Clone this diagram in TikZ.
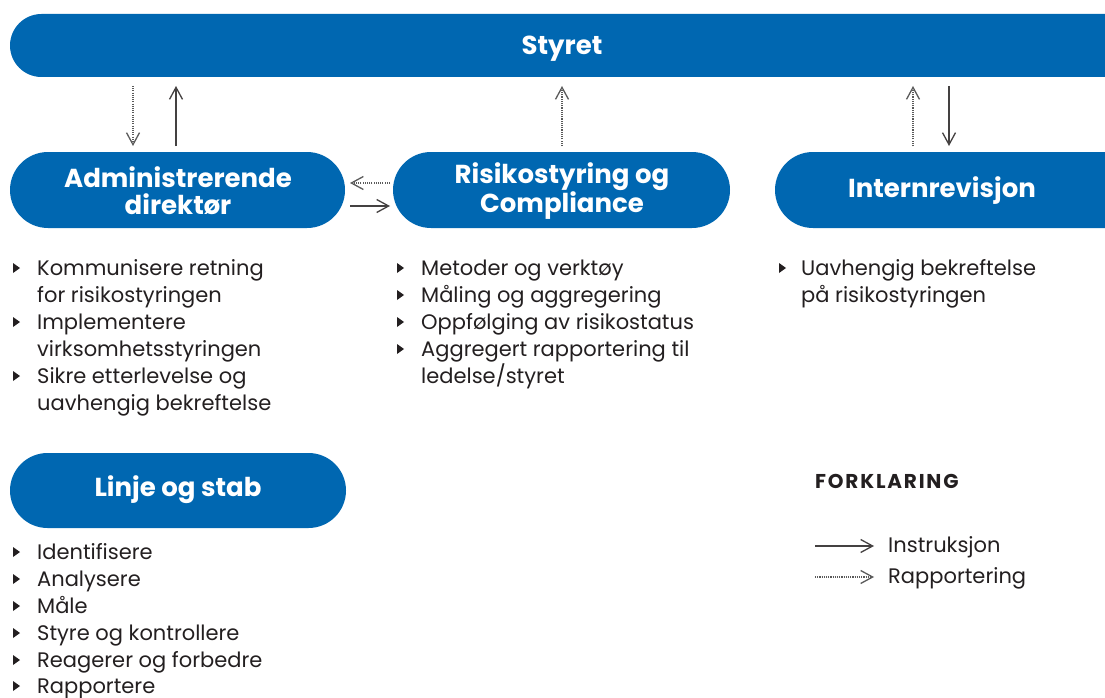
\documentclass[tikz,border=0pt]{standalone}
\usepackage{fontspec}
\setmainfont{Poppins}
\newfontfamily\legfont[LetterSpace=9]{Poppins}
\usetikzlibrary{arrows.meta}
\definecolor{pillblue}{HTML}{0067B1}
\definecolor{ink}{HTML}{231F20}
\definecolor{dotgray}{HTML}{5A5A5A}
\tikzset{
  pill/.style={fill=pillblue, draw=none},
  head/.style={text=white, font=\fontsize{26}{27}\selectfont\bfseries, align=center, inner sep=0pt},
  body/.style={text=ink, font=\fontsize{21}{27}\selectfont, anchor=base west, inner sep=0pt},
  legendhead/.style={text=ink, font=\legfont\fontsize{20}{22}\selectfont\bfseries, anchor=base west, inner sep=0pt},
  tip/.style={-{Straight Barb[length=12pt,width=13pt,line width=1.3pt]}},
  instr/.style={tip, draw=ink!85, line width=1.5pt},
  rapp/.style={tip, draw=dotgray, line width=1.1pt, dash pattern=on 1.1pt off 1.1pt},
  bullet/.style={fill=ink}
}
\newcommand{\tribul}[2]{\fill[bullet] (#1,#2-12) -- (#1,#2-2) -- (#1+7,#2-7) -- cycle;}
\begin{document}
\begin{tikzpicture}[x=1pt,y=-1pt]
\useasboundingbox (0,0) rectangle (1105,698);
\clip (0,0) rectangle (1105,698);
% pills
\fill[pill, rounded corners=31.5] (10,14) rectangle (1160,77);
\fill[pill, rounded corners=38] (10,152) rectangle (345,228);
\fill[pill, rounded corners=38] (393,152) rectangle (730,228);
\fill[pill, rounded corners=38] (775,152) rectangle (1180,228);
\fill[pill, rounded corners=37.5] (10,453) rectangle (346,528);
% headings
\node[head] (styret) at (562,48.5) {Styret};
\node[head] (adm) at (178,191) {Administrerende\\direktør};
\node[head] (risk) at (562,191) {Risikostyring og\\Compliance};
\node[head] (intern) at (942,191) {Internrevisjon};
\node[head] (linje) at (178,490) {Linje og stab};
% connector endpoints
\coordinate (a1t) at (133,86); \coordinate (a1b) at (133,146);
\coordinate (a2t) at (176,86); \coordinate (a2b) at (176,146);
\coordinate (r1t) at (562,86); \coordinate (r1b) at (562,146);
\coordinate (i1t) at (913,86); \coordinate (i1b) at (913,146);
\coordinate (i2t) at (949,86); \coordinate (i2b) at (949,146);
\coordinate (h1l) at (350,183); \coordinate (h1r) at (390,183);
\coordinate (h2l) at (350,206); \coordinate (h2r) at (390,206);
\draw[rapp] (a1t) -- (a1b);
\draw[instr] (a2b) -- (a2t);
\draw[rapp] (r1b) -- (r1t);
\draw[rapp] (i1b) -- (i1t);
\draw[instr] (i2t) -- (i2b);
\draw[rapp] (h1r) -- (h1l);
\draw[instr] (h2l) -- (h2r);
% left list
\tribul{13}{275}\tribul{13}{329}\tribul{13}{383}
\node[body] (l1) at (37,275) {Kommunisere retning};
\node[body] (l2) at (37,302) {for risikostyringen};
\node[body] (l3) at (37,329) {Implementere};
\node[body] (l4) at (37,356) {virksomhetsstyringen};
\node[body] (l5) at (37,383) {Sikre etterlevelse og};
\node[body] (l6) at (37,410) {uavhengig bekreftelse};
% middle list
\tribul{397}{275}\tribul{397}{302}\tribul{397}{329}\tribul{397}{356}
\node[body] (m1) at (421,275) {Metoder og verktøy};
\node[body] (m2) at (421,302) {Måling og aggregering};
\node[body] (m3) at (421,329) {Oppfølging av risikostatus};
\node[body] (m4) at (421,356) {Aggregert rapportering til};
\node[body] (m5) at (421,383) {ledelse/styret};
% right list
\tribul{779}{275}
\node[body] (r1) at (801,275) {Uavhengig bekreftelse};
\node[body] (r2) at (801,302) {på risikostyringen};
% linje list
\tribul{13}{559}\tribul{13}{586}\tribul{13}{613}\tribul{13}{640}\tribul{13}{667}\tribul{13}{693}
\node[body] (s1) at (37,559) {Identifisere};
\node[body] (s2) at (37,586) {Analysere};
\node[body] (s3) at (37,613) {Måle};
\node[body] (s4) at (37,640) {Styre og kontrollere};
\node[body] (s5) at (37,667) {Reagerer og forbedre};
\node[body] (s6) at (37,693) {Rapportere};
% legend
\node[legendhead] (fork) at (815,488) {FORKLARING};
\coordinate (g1l) at (815,546); \coordinate (g1r) at (874,546);
\coordinate (g2l) at (815,577); \coordinate (g2r) at (874,577);
\draw[instr] (g1l) -- (g1r);
\draw[rapp] (g2l) -- (g2r);
\node[body] (g1) at (888,552) {Instruksjon};
\node[body] (g2) at (888,583) {Rapportering};
\end{tikzpicture}
\end{document}
